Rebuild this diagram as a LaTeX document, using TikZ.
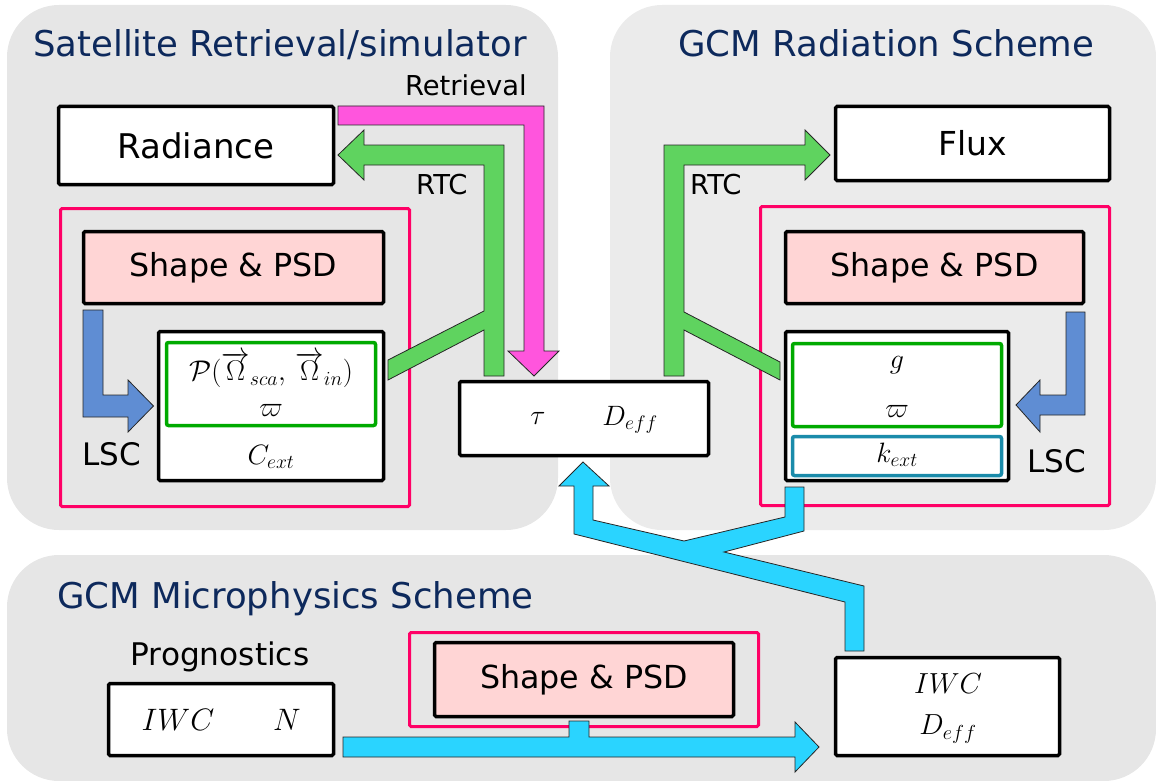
\RequirePackage{fix-cm}
\documentclass[tikz,border=0pt]{standalone}
\usepackage{fontspec}
\setmainfont{DejaVu Sans}
\definecolor{panelgrey}{HTML}{E6E6E6}
\definecolor{panelgreyR}{HTML}{EBEBEB}
\definecolor{titleblue}{HTML}{0D295C}
\definecolor{framepink}{HTML}{FF0066}
\definecolor{psdfill}{HTML}{FFD5D5}
\definecolor{optgreen}{HTML}{00AA00}
\definecolor{optteal}{HTML}{1A8BAA}
\definecolor{rtcgreen}{HTML}{5FD35F}
\definecolor{retpink}{HTML}{FF55DD}
\definecolor{lscblue}{HTML}{5F8DD3}
\definecolor{flowcyan}{HTML}{2AD4FF}
\begin{document}
\begin{tikzpicture}[x=1pt, y=-1pt,
  box/.style={draw=black, line width=3.5pt, rounded corners=1.5pt, fill=white, inner sep=0pt},
  psd/.style={box, fill=psdfill, font=\fontsize{31.7}{36}\selectfont},
  frame/.style={draw=framepink, line width=3pt, rounded corners=1.5pt, inner sep=0pt},
  optbox/.style={draw=#1, line width=3.5pt, rounded corners=2pt, fill=white, inner sep=0pt},
  fat/.style={draw=black!85, line width=0.8pt, fill=#1},
  title/.style={text=titleblue, font=\fontsize{35.5}{40}\selectfont, inner sep=0pt},
  lbl/.style={inner sep=0pt, font=\fontsize{#1}{#1}\selectfont}]
\useasboundingbox (0,0) rectangle (1156,781);
\fill[panelgrey, rounded corners=52pt] (7,5) rectangle (558,530);
\fill[panelgreyR, rounded corners=52pt] (610,5) rectangle (1156,530);
\fill[panelgrey, rounded corners=52pt] (7,555) rectangle (1156,781);
\node[title, anchor=base west] (sattitle) at (33,57) {Satellite Retrieval/simulator};
\node[title, anchor=base west] (radtitle) at (678,57) {GCM Radiation Scheme};
\node[title, anchor=base west] (mictitle) at (57,608) {GCM Microphysics Scheme};

% satellite side
\node[box, minimum width=275pt, minimum height=78pt, font=\fontsize{34}{40}\selectfont] (rad) at (196,145.5) {Radiance};
\node[frame, minimum width=349pt, minimum height=298pt] (lframe) at (235,357.5) {};
\node[psd, minimum width=300pt, minimum height=72pt] (lpsd) at (233.5,267.5) {Shape \& PSD};
\node[box, minimum width=225pt, minimum height=149pt] (lopt) at (271,406) {};
\node[optbox=optgreen, minimum width=209pt, minimum height=83pt] (lphase) at (271,384) {};
\node[lbl=28.5] (pfun) at (271,370) {$\mathcal{P}(\overrightarrow{\Omega}_{sca},\,\overrightarrow{\Omega}_{in})$};
\node[lbl=28] (lomega) at (271,410) {$\varpi$};
\node[lbl=28] (cext) at (271,457) {$C_{ext}$};
\node[lbl=27.4, anchor=base east] (retlbl) at (527,96) {Retrieval};
\node[lbl=27.4, anchor=base west] (lrtc) at (416,194) {RTC};
\node[lbl=31, anchor=base west] (llsc) at (82,465) {LSC};

% radiation side
\node[box, minimum width=274pt, minimum height=74pt, font=\fontsize{33}{40}\selectfont] (flux) at (972.5,143.5) {Flux};
\node[frame, minimum width=349pt, minimum height=299pt] (rframe) at (935,356) {};
\node[psd, minimum width=298pt, minimum height=72pt] (rpsd) at (934.5,267.5) {Shape \& PSD};
\node[box, minimum width=223pt, minimum height=149pt] (ropt) at (897,406) {};
\node[optbox=optgreen, minimum width=209pt, minimum height=83pt] (rphase) at (897,385) {};
\node[optbox=optteal, minimum width=209pt, minimum height=39pt] (rext) at (897,456) {};
\node[lbl=28] (asym) at (897,365) {$g$};
\node[lbl=28] (romega) at (897,411) {$\varpi$};
\node[lbl=28] (kext) at (897,455) {$k_{ext}$};
\node[lbl=27.4, anchor=base west] (rrtc) at (690,194) {RTC};
\node[lbl=31, anchor=base west] (rlsc) at (1027,472) {LSC};

% shared bulk properties
\node[box, minimum width=249pt, minimum height=74pt] (bulk) at (584,418.5) {};
\node[lbl=28] (tau) at (538,418) {$\tau$};
\node[lbl=28] (deff) at (630,420) {$D_{eff}$};

% microphysics
\node[lbl=31.2, anchor=base] (proglbl) at (220,665) {Prognostics};
\node[box, minimum width=225pt, minimum height=72pt] (prog) at (221,719.5) {};
\node[lbl=31] (piwc) at (178,720) {$IWC$};
\node[lbl=31] (pnum) at (287,720) {$N$};
\node[frame, minimum width=349pt, minimum height=94pt] (bframe) at (584,679.5) {};
\node[psd, minimum width=299pt, minimum height=74pt] (bpsd) at (584,679.5) {Shape \& PSD};
\node[box, minimum width=224pt, minimum height=98pt] (diag) at (947.5,706.5) {};
\node[lbl=29] (diwc) at (948,684) {$IWC$};
\node[lbl=29] (ddeff) at (948,729) {$D_{eff}$};

% block arrows
\draw[fat=retpink] (338,106) -- (544,106) -- (544,351) -- (559,351) -- (534,376) -- (508,351) -- (524,351) -- (524,125) -- (338,125) -- cycle;
\draw[fat=rtcgreen] (338,155) -- (364,130) -- (364,145) -- (504,145) -- (504,376) -- (484,376) -- (484,330) -- (388,380) -- (388,360) -- (484,311) -- (484,165) -- (364,165) -- (364,180) -- cycle;
\draw[fat=rtcgreen] (830,155) -- (805,130) -- (805,145) -- (664,145) -- (664,376) -- (684,376) -- (684,330) -- (780,380) -- (780,362) -- (684,312) -- (684,165) -- (805,165) -- (805,180) -- cycle;
\draw[fat=lscblue] (83,310) -- (103,310) -- (103,395) -- (128,395) -- (128,380) -- (153.5,406) -- (128,432) -- (128,417) -- (83,417) -- cycle;
\draw[fat=lscblue] (1085,312) -- (1066,312) -- (1066,395) -- (1040,395) -- (1040,380) -- (1016,405) -- (1040,432) -- (1040,415) -- (1085,415) -- cycle;
\draw[fat=flowcyan] (583,462) -- (609,486) -- (593,486) -- (593,520) -- (684,541) -- (785,517) -- (785,487) -- (804,487) -- (804,531) -- (724,552) -- (864,586) -- (864,651) -- (845,651) -- (845,602) -- (574,534) -- (574,486) -- (559,486) -- cycle;
\draw[fat=flowcyan] (343,737) -- (569,737) -- (569,721) -- (589,721) -- (589,737) -- (795,737) -- (795,722) -- (819,747) -- (795,772) -- (795,757) -- (343,757) -- cycle;
\end{tikzpicture}
\end{document}
